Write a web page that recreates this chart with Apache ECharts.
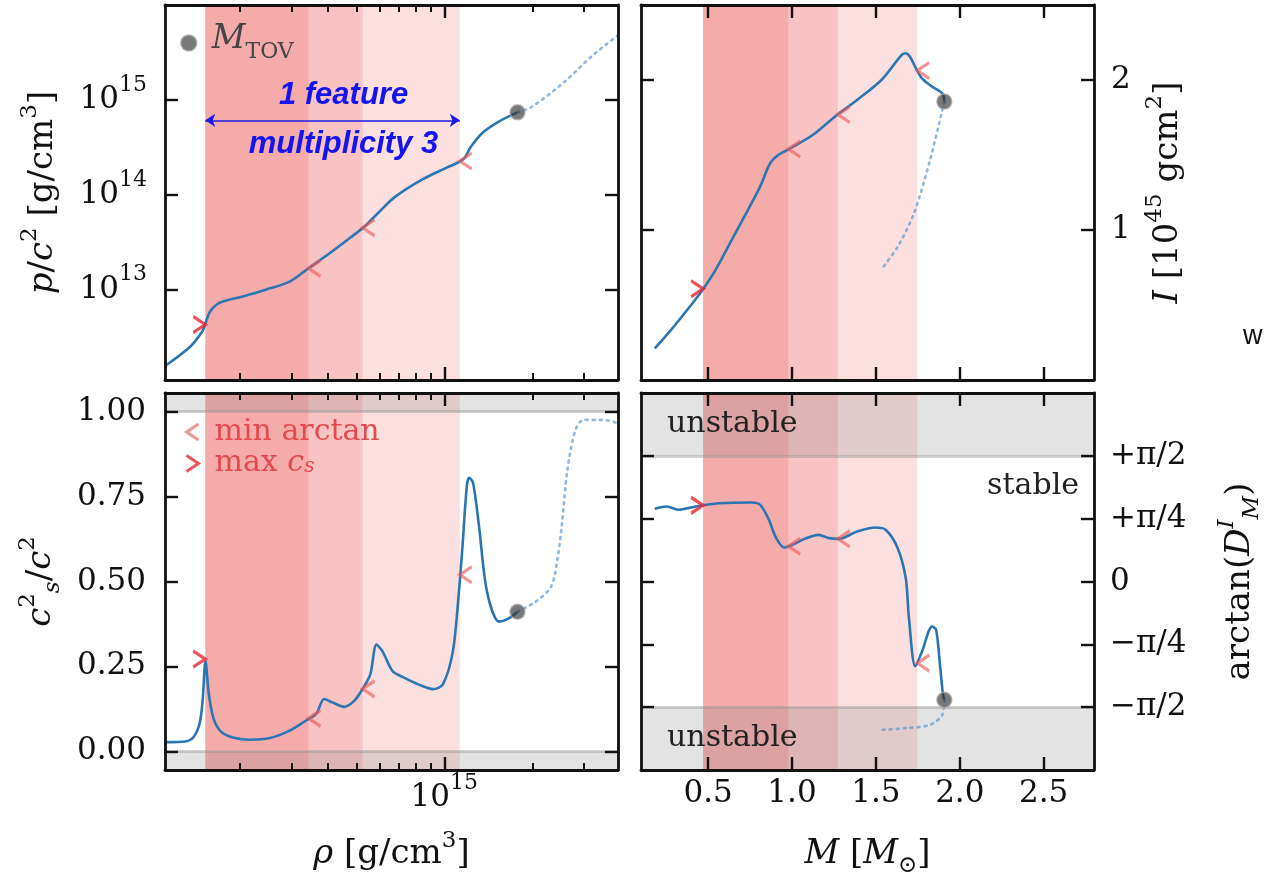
<!DOCTYPE html>
<html>
<head>
<meta charset="utf-8">
<script src="https://cdn.jsdelivr.net/npm/echarts@6.0.0/dist/echarts.min.js"></script>
<style>
html,body{margin:0;padding:0;background:#ffffff;}
#chart{width:1268px;height:886px;}
</style>
</head>
<body>
<div id="chart"></div>
<script>
// ===================== DATA =====================
// (a) pressure p/c^2 vs density rho  (stable branch, then unstable dotted)
const rhoP = [1.11e14, 1.349e14, 1.483e14, 1.517e14, 1.578e14, 1.706e14, 2.028e14, 2.449e14, 2.958e14, 3.459e14, 4.083e14, 4.775e14, 5.333e14, 5.957e14, 6.745e14, 8.414e14, 1.023e15, 1.161e15, 1.236e15, 1.358e15, 1.542e15, 1.78e15];
const pVals = [1.58e12, 2.512e12, 3.614e12, 4.285e12, 5.875e12, 7.311e12, 8.453e12, 1.002e13, 1.219e13, 1.714e13, 2.466e13, 3.548e13, 4.645e13, 6.516e13, 9.397e13, 1.455e14, 1.945e14, 2.366e14, 3.243e14, 4.560e14, 5.957e14, 7.4e14];
const rhoPUnstable = [1.78e15, 1.982e15, 2.570e15, 3.199e15, 3.93e15];
const pUnstable = [7.4e14, 8.375e14, 1.538e15, 2.897e15, 4.8e15];

// (c) speed of sound c_s^2/c^2 vs density
const rhoCs = [1.11e14, 1.300e14, 1.386e14, 1.453e14, 1.489e14, 1.523e14, 1.564e14, 1.625e14, 1.731e14, 1.904e14, 2.160e14, 2.529e14, 2.958e14, 3.357e14, 3.642e14, 3.882e14, 4.138e14, 4.550e14, 4.922e14, 5.333e14, 5.585e14, 5.861e14, 6.138e14, 6.653e14, 7.194e14, 8.150e14, 9.139e14, 9.885e14, 1.070e15, 1.122e15, 1.151e15, 1.194e15, 1.216e15, 1.254e15, 1.314e15, 1.400e15, 1.542e15, 1.667e15, 1.78e15];
const csVals = [0.027, 0.029, 0.042, 0.081, 0.149, 0.266, 0.168, 0.095, 0.056, 0.040, 0.034, 0.039, 0.061, 0.090, 0.110, 0.154, 0.144, 0.131, 0.149, 0.193, 0.227, 0.314, 0.295, 0.236, 0.219, 0.197, 0.183, 0.197, 0.295, 0.470, 0.590, 0.781, 0.805, 0.791, 0.664, 0.470, 0.382, 0.392, 0.411];
const rhoCsUnstable = [1.78e15, 2.05e15, 2.32e15, 2.44e15, 2.52e15, 2.64e15, 2.81e15, 3.0e15, 3.5e15, 3.93e15];
const csUnstable = [0.411, 0.44, 0.485, 0.567, 0.66, 0.83, 0.946, 0.976, 0.976, 0.966];

// (b) moment of inertia I vs mass M
const mI = [0.182, 0.278, 0.375, 0.459, 0.544, 0.640, 0.737, 0.810, 0.869, 0.918, 0.990, 1.123, 1.268, 1.388, 1.533, 1.654, 1.678, 1.702, 1.739, 1.775, 1.835, 1.896, 1.908];
const iVals = [0.211, 0.333, 0.467, 0.589, 0.733, 0.933, 1.133, 1.289, 1.444, 1.500, 1.544, 1.633, 1.767, 1.867, 2.000, 2.167, 2.178, 2.156, 2.078, 2.011, 1.956, 1.911, 1.856];
const mIUnstable = [1.908, 1.896, 1.823, 1.727, 1.630, 1.545];
const iUnstable = [1.856, 1.8, 1.467, 1.111, 0.889, 0.756];

// (d) arctan(D^I_M) vs mass M  (radians)
const mD = [0.182, 0.254, 0.327, 0.399, 0.459, 0.568, 0.761, 0.810, 0.858, 0.906, 0.954, 1.002, 1.075, 1.159, 1.220, 1.280, 1.388, 1.497, 1.558, 1.630, 1.678, 1.697, 1.735, 1.775, 1.835, 1.859, 1.884, 1.900, 1.908];
const dVals = [0.908, 0.937, 0.896, 0.925, 0.950, 0.979, 0.987, 0.958, 0.792, 0.542, 0.425, 0.458, 0.533, 0.583, 0.542, 0.533, 0.625, 0.675, 0.646, 0.417, 0.042, -0.458, -1.06, -0.875, -0.562, -0.604, -1.083, -1.417, -1.479];
const mDUnstable = [1.908, 1.896, 1.823, 1.678, 1.533];
const dUnstable = [-1.479, -1.667, -1.792, -1.833, -1.854];

// feature (multiplicity 3): start (max c_s) and ends (min arctan)
const featureStartRho = 1.52e14;
const featureEndRho = [3.43e14, 5.25e14, 1.13e15];
const featureStartM = 0.47;
const featureEndM = [0.978, 1.273, 1.747];
const pAtStart = 4.3e12, pAtEnds = [1.68e13, 4.5e13, 2.27e14];
const csAtStart = 0.272, csAtEnds = [0.097, 0.184, 0.52];
const iAtStart = 0.608, iAtEnds = [1.54, 1.77, 2.063];
const dAtStart = 0.952, dAtEnds = [0.44, 0.534, -1.02];

// maximum mass (TOV) point
const rhoTOV = 1.78e15, pTOV = 7.4e14, csTOV = 0.411, mTOV = 1.908, iTOV = 1.856, dTOV = -1.479;
const arrowP = 6.1e14;

// axes ranges and ticks
const PI4 = Math.PI / 4;
const rhoMin = 1.107e14, rhoMax = 3.93e15;
const pMin = 1.12e12, pMax = 1e16;
const csMin = -0.055, csMax = 1.055;
const mMin = 0.1, mMax = 2.8;
const iMin = 0, iMax = 2.5;
const dMin = -3 * PI4, dMax = 3 * PI4;
const rhoMajor = [1e15];
const rhoMinor = [2e14, 3e14, 4e14, 5e14, 6e14, 7e14, 8e14, 9e14, 2e15, 3e15];
const pTicks = [1e13, 1e14, 1e15];
const csTicks = [0, 0.25, 0.5, 0.75, 1.0];
const mTicks = [0.5, 1.0, 1.5, 2.0, 2.5];
const iTicks = [1, 2];
const dTicks = [-2 * PI4, -PI4, 0, PI4, 2 * PI4];
const dTickLabels = ['−π/2', '−π/4', '0', '+π/4', '+π/2'];

// ===================== STYLE =====================
const SERIF = 'DejaVu Serif';
const SANS = 'Liberation Sans';
const TICK_FS = 31;
const NAME_FS = 34;
const TXT = '#111111';
const BLUE = '#2a76b2';
const DOT = 'rgba(86,146,204,0.65)';
const BAND = 'rgba(235,30,30,0.14)';
const GRAY = 'rgba(128,128,128,0.22)';
const GRAYLINE = 'rgba(150,150,150,0.45)';
const MINC = 'rgba(238,88,88,0.8)';
const MAXC = '#e8262f';
const LEGTXT = '#e24a4f';
const TOVC = 'rgba(45,45,45,0.8)';

const G = [
  {left: 165, top: 5, width: 453, height: 375},
  {left: 641, top: 5, width: 453, height: 375},
  {left: 165, top: 393, width: 453, height: 377},
  {left: 641, top: 393, width: 453, height: 377}
];

const powRich = {
  b: {fontFamily: SERIF, fontSize: TICK_FS, lineHeight: 52, color: TXT},
  s: {fontFamily: SERIF, fontSize: 22, lineHeight: 24, verticalAlign: 'top', color: TXT}
};
const powFmt = v => '{b|10}{s|' + Math.round(Math.log10(v)) + '}';

function nameRich() {
  return {
    i: {fontFamily: SERIF, fontStyle: 'italic', fontSize: NAME_FS, lineHeight: 48, color: TXT},
    r: {fontFamily: SERIF, fontSize: NAME_FS, lineHeight: 48, color: TXT},
    sp: {fontFamily: SERIF, fontSize: 23, lineHeight: 26, verticalAlign: 'top', color: TXT},
    spi: {fontFamily: SERIF, fontStyle: 'italic', fontSize: 23, lineHeight: 26, verticalAlign: 'top', color: TXT},
    sb: {fontFamily: SERIF, fontSize: 23, lineHeight: 26, verticalAlign: 'bottom', color: TXT},
    sbi: {fontFamily: SERIF, fontStyle: 'italic', fontSize: 23, lineHeight: 26, verticalAlign: 'bottom', color: TXT}
  };
}

function ax(o) {
  const a = {
    gridIndex: o.g, type: o.type || 'value', position: o.pos, min: o.min, max: o.max, z: 10,
    axisLine: {show: !!o.line, onZero: false, lineStyle: {color: TXT, width: 2.8}},
    axisTick: {show: true, inside: true, length: o.len || 13, lineStyle: {color: TXT, width: o.tw || 2.4}, customValues: o.ticks},
    axisLabel: {show: false},
    splitLine: {show: false}, minorTick: {show: false}, minorSplitLine: {show: false},
    axisPointer: {show: false}
  };
  if (o.type === 'log') a.logBase = 10;
  if (o.labels) a.axisLabel = Object.assign({show: true, customValues: o.ticks, color: TXT, fontFamily: SERIF, fontSize: TICK_FS}, o.labels);
  if (o.name) Object.assign(a, {name: o.name, nameLocation: 'middle', nameGap: o.gap, nameRotate: o.rot || 0, nameTextStyle: {rich: nameRich()}});
  return a;
}

const xAxes = [
  ax({g: 0, type: 'log', pos: 'bottom', min: rhoMin, max: rhoMax, line: true, ticks: rhoMajor}),
  ax({g: 0, type: 'log', pos: 'bottom', min: rhoMin, max: rhoMax, ticks: rhoMinor, len: 7, tw: 2}),
  ax({g: 0, type: 'log', pos: 'top', min: rhoMin, max: rhoMax, line: true, ticks: rhoMajor}),
  ax({g: 0, type: 'log', pos: 'top', min: rhoMin, max: rhoMax, ticks: rhoMinor, len: 7, tw: 2}),
  ax({g: 1, pos: 'bottom', min: mMin, max: mMax, line: true, ticks: mTicks}),
  ax({g: 1, pos: 'top', min: mMin, max: mMax, line: true, ticks: mTicks}),
  ax({g: 2, type: 'log', pos: 'bottom', min: rhoMin, max: rhoMax, line: true, ticks: rhoMajor,
      labels: {margin: 2, formatter: powFmt, rich: powRich},
      name: '{i|ρ}{r| [g/cm}{sp|3}{r|]}', gap: 60}),
  ax({g: 2, type: 'log', pos: 'bottom', min: rhoMin, max: rhoMax, ticks: rhoMinor, len: 7, tw: 2}),
  ax({g: 2, type: 'log', pos: 'top', min: rhoMin, max: rhoMax, line: true, ticks: rhoMajor}),
  ax({g: 2, type: 'log', pos: 'top', min: rhoMin, max: rhoMax, ticks: rhoMinor, len: 7, tw: 2}),
  ax({g: 3, pos: 'bottom', min: mMin, max: mMax, line: true, ticks: mTicks,
      labels: {margin: 8, formatter: v => v.toFixed(1)},
      name: '{i|M}{r| [}{i|M}{sb|⊙}{r|]}', gap: 60}),
  ax({g: 3, pos: 'top', min: mMin, max: mMax, line: true, ticks: mTicks})
];

const yAxes = [
  ax({g: 0, type: 'log', pos: 'left', min: pMin, max: pMax, line: true, ticks: pTicks,
      labels: {margin: 18, formatter: powFmt, rich: powRich},
      name: '{i|p}{r|/}{i|c}{sp|2}{r| [g/cm}{sp|3}{r|]}', gap: 98, rot: 90}),
  ax({g: 0, type: 'log', pos: 'right', min: pMin, max: pMax, line: true, ticks: pTicks}),
  ax({g: 1, pos: 'left', min: iMin, max: iMax, line: true, ticks: iTicks}),
  ax({g: 1, pos: 'right', min: iMin, max: iMax, line: true, ticks: iTicks,
      labels: {margin: 17, formatter: v => String(Math.round(v))},
      name: '{i|I}{r| [10}{sp|45}{r| gcm}{sp|2}{r|]}', gap: 50, rot: 90}),
  ax({g: 2, pos: 'left', min: csMin, max: csMax, line: true, ticks: csTicks,
      labels: {margin: 19, formatter: v => v.toFixed(2)},
      name: '{i|c}{sp|2}{sbi|s}{r|/}{i|c}{sp|2}', gap: 100, rot: 90}),
  ax({g: 2, pos: 'right', min: csMin, max: csMax, line: true, ticks: csTicks}),
  ax({g: 3, pos: 'left', min: dMin, max: dMax, line: true, ticks: dTicks}),
  ax({g: 3, pos: 'right', min: dMin, max: dMax, line: true, ticks: dTicks,
      labels: {margin: 16, formatter: v => dTickLabels[Math.round(v / PI4) + 2]},
      name: '{r|arctan(}{i|D}{spi|I}{sbi|M}{r|)}', gap: 122, rot: 90})
];

// ===================== SERIES =====================
const pair = (xs, ys) => xs.map((x, i) => [x, ys[i]]);

function bandsOn(start, ends) {
  return ends.map(e => [{xAxis: start, itemStyle: {color: BAND}}, {xAxis: e}]);
}
function curve(xi, yi, data, extra) {
  return Object.assign({type: 'line', xAxisIndex: xi, yAxisIndex: yi, data: data, symbol: 'none', smooth: 0.3,
    lineStyle: {color: BLUE, width: 2.6}, z: 3, silent: true}, extra || {});
}
function dotted(xi, yi, data, extra) {
  return Object.assign({type: 'line', xAxisIndex: xi, yAxisIndex: yi, data: data, symbol: 'none', smooth: 0.3,
    lineStyle: {color: DOT, width: 2.6, type: [2, 5], cap: 'round'}, z: 3, silent: true}, extra || {});
}
function minMarks(xi, yi, data) {
  return {type: 'scatter', name: 'min arctan', xAxisIndex: xi, yAxisIndex: yi, data: data,
    symbol: 'path://M12,0L0,8L12,16', symbolSize: [12, 16], symbolOffset: [6, 0],
    itemStyle: {color: 'none', borderColor: MINC, borderWidth: 3}, z: 5, silent: true};
}
function maxMarks(xi, yi, data) {
  return {type: 'scatter', name: 'max c_s', xAxisIndex: xi, yAxisIndex: yi, data: data,
    symbol: 'path://M0,0L12,8L0,16', symbolSize: [12, 16], symbolOffset: [-6, 0],
    itemStyle: {color: 'none', borderColor: MAXC, borderWidth: 3}, z: 5, silent: true};
}
function tov(xi, yi, data) {
  return {type: 'scatter', name: 'M_TOV', xAxisIndex: xi, yAxisIndex: yi, data: data,
    symbol: 'circle', symbolSize: 15,
    itemStyle: {color: TOVC, borderColor: 'rgba(170,170,170,0.9)', borderWidth: 1.5}, z: 6, silent: true};
}
const grayLines = vals => ({silent: true, symbol: 'none', label: {show: false},
  lineStyle: {color: GRAYLINE, width: 3, type: 'solid'}, data: vals.map(v => ({yAxis: v}))});

const annoText = {color: '#1414f0', fontFamily: SANS, fontStyle: 'italic', fontWeight: 'bold', fontSize: 31};
const unstableLabel = {show: true, position: 'insideLeft', distance: 26, formatter: 'unstable',
  color: '#222', fontFamily: SERIF, fontSize: 30};

const series = [
  // ---- (a) ----
  curve(0, 0, pair(rhoP, pVals), {
    markArea: {silent: true, label: {show: false}, data: bandsOn(featureStartRho, featureEndRho)},
    markLine: {silent: true, animation: false, precision: 20,
      symbol: ['arrow', 'arrow'], symbolSize: 10,
      lineStyle: {color: '#1a1ae8', width: 1.6, type: 'solid'},
      label: Object.assign({show: true, position: 'insideMiddleTop', distance: 9, formatter: '1 feature', padding: [0, 0, 0, 22]}, annoText),
      data: [[{coord: [featureStartRho, arrowP]}, {coord: [featureEndRho[2], arrowP]}]]}
  }),
  dotted(0, 0, pair(rhoPUnstable, pUnstable), {
    markLine: {silent: true, animation: false, precision: 20, symbol: 'none',
      lineStyle: {color: 'rgba(0,0,0,0)', width: 1},
      label: Object.assign({show: true, position: 'insideMiddleBottom', distance: 9, formatter: 'multiplicity 3', padding: [0, 0, 0, 22]}, annoText),
      data: [[{coord: [featureStartRho, arrowP]}, {coord: [featureEndRho[2], arrowP]}]]}
  }),
  minMarks(0, 0, pair(featureEndRho, pAtEnds)),
  maxMarks(0, 0, [[featureStartRho, pAtStart]]),
  tov(0, 0, [[rhoTOV, pTOV]]),
  // ---- (b) ----
  curve(4, 2, pair(mI, iVals), {
    markArea: {silent: true, label: {show: false}, data: bandsOn(featureStartM, featureEndM)}
  }),
  dotted(4, 2, pair(mIUnstable, iUnstable)),
  minMarks(4, 2, pair(featureEndM, iAtEnds)),
  maxMarks(4, 2, [[featureStartM, iAtStart]]),
  tov(4, 2, [[mTOV, iTOV]]),
  // ---- (c) ----
  curve(6, 4, pair(rhoCs, csVals), {
    markArea: {silent: true, label: {show: false}, data: bandsOn(featureStartRho, featureEndRho).concat([
      [{yAxis: 1.0, itemStyle: {color: GRAY}}, {yAxis: csMax}],
      [{yAxis: csMin, itemStyle: {color: GRAY}}, {yAxis: 0}]
    ])},
    markLine: grayLines([0, 1])
  }),
  dotted(6, 4, pair(rhoCsUnstable, csUnstable)),
  minMarks(6, 4, pair(featureEndRho, csAtEnds)),
  maxMarks(6, 4, [[featureStartRho, csAtStart]]),
  tov(6, 4, [[rhoTOV, csTOV]]),
  // ---- (d) ----
  curve(10, 6, pair(mD, dVals), {
    markArea: {silent: true, label: {show: false}, data: bandsOn(featureStartM, featureEndM).concat([
      [{yAxis: 2 * PI4, itemStyle: {color: GRAY}, label: unstableLabel}, {yAxis: dMax}],
      [{yAxis: dMin, itemStyle: {color: GRAY}, label: unstableLabel}, {yAxis: -2 * PI4}],
      [{yAxis: -2 * PI4, itemStyle: {color: 'rgba(0,0,0,0)'},
        label: {show: true, position: 'insideTopRight', distance: 15, formatter: 'stable', color: '#222', fontFamily: SERIF, fontSize: 30}},
       {yAxis: 2 * PI4}]
    ])},
    markLine: grayLines([-2 * PI4, 2 * PI4])
  }),
  dotted(10, 6, pair(mDUnstable, dUnstable)),
  minMarks(10, 6, pair(featureEndM, dAtEnds)),
  maxMarks(10, 6, [[featureStartM, dAtStart]]),
  tov(10, 6, [[mTOV, dTOV]])
];

const option = {
  animation: false,
  backgroundColor: '#ffffff',
  grid: G.map(g => Object.assign({containLabel: false, outerBoundsMode: 'none'}, g)),
  legend: [
    {
      data: [{name: 'M_TOV', icon: 'circle', itemStyle: {color: TOVC, borderColor: 'rgba(170,170,170,0.9)', borderWidth: 1.5}}],
      left: 180, top: 23, padding: 0, itemWidth: 16, itemHeight: 16, selectedMode: false,
      formatter: () => '{i|M}{s|TOV}',
      textStyle: {rich: {
        i: {fontFamily: SERIF, fontStyle: 'italic', fontSize: 33, lineHeight: 40, verticalAlign: 'top', color: '#454545', padding: [0, 0, 0, 10]},
        s: {fontFamily: SERIF, fontSize: 22, lineHeight: 24, verticalAlign: 'bottom', color: '#454545'}
      }}
    },
    {
      data: [
        {name: 'min arctan', icon: 'path://M12,0L0,8L12,16', itemStyle: {color: 'none', borderColor: MINC, borderWidth: 3}},
        {name: 'max c_s', icon: 'path://M0,0L12,8L0,16', itemStyle: {color: 'none', borderColor: MAXC, borderWidth: 3}}
      ],
      orient: 'vertical', left: 184, top: 417, padding: 0, itemWidth: 12, itemHeight: 16, itemGap: 1.5, selectedMode: false,
      formatter: n => n === 'max c_s' ? '{r|max }{ci|c}{sb|s}' : '{r|min arctan}',
      textStyle: {rich: {
        r: {fontFamily: SERIF, fontSize: 30, lineHeight: 28, color: LEGTXT, padding: [0, 0, 0, 11]},
        ci: {fontFamily: SERIF, fontStyle: 'italic', fontSize: 30, lineHeight: 28, color: LEGTXT},
        sb: {fontFamily: SERIF, fontStyle: 'italic', fontSize: 21, lineHeight: 20, verticalAlign: 'bottom', color: LEGTXT}
      }}
    }
  ],
  xAxis: xAxes,
  yAxis: yAxes,
  series: series,
  graphic: [
    {type: 'text', left: 1243, top: 323, silent: true,
     style: {text: 'w', font: '27px "Liberation Sans"', fill: '#111'}}
  ]
};

const chart = echarts.init(document.getElementById('chart'), null, {renderer: 'canvas'});
chart.setOption(option);
</script>
</body>
</html>
